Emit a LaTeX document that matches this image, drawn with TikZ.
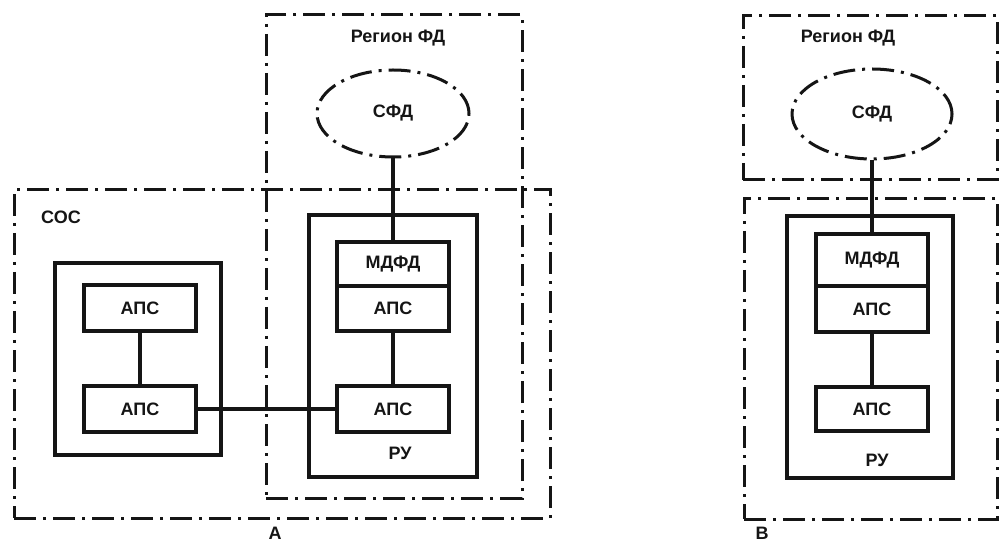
\documentclass[tikz,border=0pt]{standalone}
\usepackage{fontspec}
\setmainfont{Liberation Sans}
\usepackage{tikz}
\usetikzlibrary{shapes.geometric,positioning}
\definecolor{scanink}{HTML}{151515}
\tikzset{
every picture/.style={line join=miter},
fig text/.style={font=\fontsize{9}{10}\selectfont\bfseries, text=scanink},
dashdot frame/.style={
  draw=scanink,
  line width=1.5pt,
  dash pattern=on 11pt off 3.5pt on 1.5pt off 3.5pt,
  inner sep=0pt
},
cloud oval/.style={dashdot frame, ellipse, fig text},
unit frame/.style={draw=scanink, line width=1.6pt, inner sep=0pt, outer sep=0pt},
aps box/.style={unit frame, fig text, minimum width=56pt, minimum height=23pt},
fig link/.style={draw=scanink, line width=1.6pt}
}
\begin{document}
\begin{tikzpicture}[x=0.5pt,y=-0.5pt]
\useasboundingbox (0,0) rectangle (999,544);
% variant A
\node[dashdot frame, minimum width=128pt, minimum height=241.5pt] (regionA) at (394,256.5) {};
\node[dashdot frame, minimum width=268pt, minimum height=164pt] (cosA) at (282,354) {};
\node[fig text] (regionAlbl) at (398,38) {Регион ФД};
\node[fig text] (cosAlbl) at (61,217) {СОС};
\node[cloud oval, minimum width=76pt, minimum height=43.5pt] (sfdA) at (393,113.5) {СФД};
\node[unit frame, minimum width=83pt, minimum height=96pt] (hostA) at (138,359) {};
\node[aps box] (apsA1) at (140,308) {АПС};
\node[aps box] (apsA2) at (140,409) {АПС};
\node[unit frame, minimum width=84pt, minimum height=131pt] (ruA) at (393,346) {};
\node[aps box, minimum height=22pt] (mdfdA) at (393,264) {МДФД};
\node[aps box, minimum height=22.5pt, below=0pt of mdfdA] (apsA3) {АПС};
\node[aps box] (apsA4) at (393,409) {АПС};
\node[fig text] (ruAlbl) at (400,453) {РУ};
\node[fig text] (capA) at (275,533) {А};
\draw[fig link] (sfdA) -- (mdfdA);
\draw[fig link] (apsA1) -- (apsA2);
\draw[fig link] (apsA3) -- (apsA4);
\draw[fig link] (apsA2) -- (apsA4);
% variant B
\node[dashdot frame, minimum width=127pt, minimum height=82pt] (regionB) at (870,98) {};
\node[dashdot frame, minimum width=126.5pt, minimum height=160pt] (cosB) at (870.5,359) {};
\node[fig text] (regionBlbl) at (848,38) {Регион ФД};
\node[cloud oval, minimum width=80pt, minimum height=45pt] (sfdB) at (872,114) {СФД};
\node[unit frame, minimum width=83pt, minimum height=131pt] (ruB) at (870,347) {};
\node[aps box, minimum height=26pt] (mdfdB) at (872,260) {МДФД};
\node[aps box, below=0pt of mdfdB] (apsB1) {АПС};
\node[aps box, minimum height=22pt] (apsB2) at (872,409) {АПС};
\node[fig text] (ruBlbl) at (877,460) {РУ};
\node[fig text] (capB) at (762,533) {В};
\draw[fig link] (sfdB) -- (mdfdB);
\draw[fig link] (apsB1) -- (apsB2);
\end{tikzpicture}
\end{document}
